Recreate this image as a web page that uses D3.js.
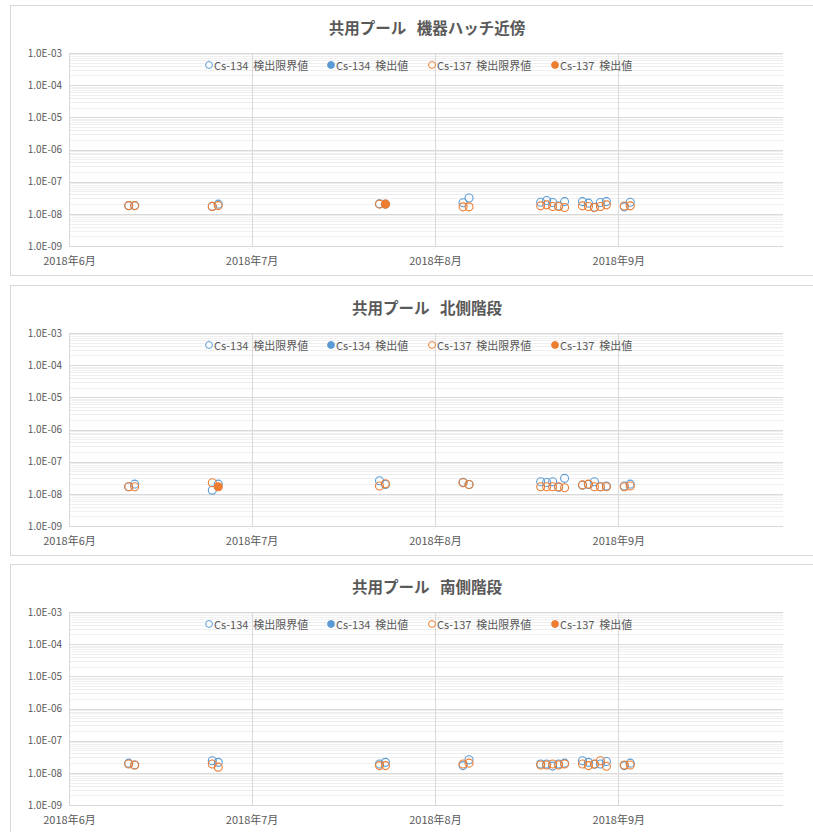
<!DOCTYPE html>
<html><head><meta charset="utf-8">
<script src="https://cdn.jsdelivr.net/npm/d3@7"></script>
<style>
body{margin:0;background:#fff}
text{font-family:"Noto Sans CJK JP","Noto Sans",sans-serif;fill:#595959;white-space:pre}
</style>
</head><body>
<svg id="chart" width="813" height="832"></svg>
<script>
// ---------- data ----------
const panelTitles = ["共用プール\u00A0\u00A0\u00A0機器ハッチ近傍", "共用プール\u00A0\u00A0\u00A0北側階段", "共用プール\u00A0\u00A0\u00A0南側階段"];
const seriesNames = ["Cs-134\u00A0\u00A0検出限界値", "Cs-134\u00A0\u00A0検出値", "Cs-137\u00A0\u00A0検出限界値", "Cs-137\u00A0\u00A0検出値"];
const yTickValues = [1e-3, 1e-4, 1e-5, 1e-6, 1e-7, 1e-8, 1e-9];
const yTickLabels = ["1.0E-03", "1.0E-04", "1.0E-05", "1.0E-06", "1.0E-07", "1.0E-08", "1.0E-09"];
const xTickDates = ["2018-06-01 00", "2018-07-01 14", "2018-08-01 07", "2018-09-01 00"];
const xTickLabels = ["2018年6月", "2018年7月", "2018年8月", "2018年9月"];
const xDomain = ["2018-06-01 00", "2018-09-28 14"];

const sampleDates = ["2018-06-11", "2018-06-12", "2018-06-25", "2018-06-26", "2018-07-23", "2018-07-24",
  "2018-08-06", "2018-08-07", "2018-08-19", "2018-08-20", "2018-08-21", "2018-08-22", "2018-08-23",
  "2018-08-26", "2018-08-27", "2018-08-28", "2018-08-29", "2018-08-30", "2018-09-02", "2018-09-03"];

// 機器ハッチ近傍
const hatchCs134Limit = [1.8e-8, 1.8e-8, 1.7e-8, 2.0e-8, 2.05e-8, 2.0e-8, 2.2e-8, 3.1e-8,
  2.3e-8, 2.6e-8, 2.24e-8, 1.75e-8, 2.4e-8, 2.4e-8, 2.15e-8, 1.6e-8, 2.24e-8, 2.4e-8, 1.65e-8, 2.3e-8];
const hatchCs134Detected = [null, null, null, null, null, null, null, null, null, null,
  null, null, null, null, null, null, null, null, null, null];
const hatchCs137Limit = [1.8e-8, 1.8e-8, 1.7e-8, 1.8e-8, 2.0e-8, null, 1.65e-8, 1.65e-8,
  1.77e-8, 1.9e-8, 1.69e-8, 1.69e-8, 1.57e-8, 1.77e-8, 1.69e-8, 1.57e-8, 1.69e-8, 1.9e-8, 1.75e-8, 1.77e-8];
const hatchCs137Detected = [null, null, null, null, null, 2.0e-8, null, null, null, null,
  null, null, null, null, null, null, null, null, null, null];

// 北側階段
const northCs134Limit = [1.66e-8, 2.0e-8, 1.3e-8, 2.0e-8, 2.55e-8, 1.95e-8, 2.3e-8, 1.95e-8,
  2.38e-8, 2.24e-8, 2.38e-8, 1.6e-8, 3.03e-8, 1.85e-8, 1.95e-8, 2.38e-8, 1.66e-8, 1.75e-8, 1.75e-8, 2.0e-8];
const northCs134Detected = [null, null, null, null, null, null, null, null, null, null,
  null, null, null, null, null, null, null, null, null, null];
const northCs137Limit = [1.66e-8, 1.66e-8, 2.2e-8, null, 1.75e-8, 2.05e-8, 2.2e-8, 1.95e-8,
  1.66e-8, 1.66e-8, 1.66e-8, 1.66e-8, 1.55e-8, 1.9e-8, 2.0e-8, 1.66e-8, 1.66e-8, 1.66e-8, 1.66e-8, 1.75e-8];
const northCs137Detected = [null, null, null, 1.66e-8, null, null, null, null, null, null,
  null, null, null, null, null, null, null, null, null, null];

// 南側階段
const southCs134Limit = [2.0e-8, 1.75e-8, 2.38e-8, 2.12e-8, 1.88e-8, 2.12e-8, 1.68e-8, 2.55e-8,
  1.88e-8, 1.88e-8, 1.62e-8, 1.88e-8, 2.0e-8, 2.38e-8, 2.12e-8, 1.85e-8, 1.88e-8, 2.24e-8, 1.68e-8, 2.0e-8];
const southCs134Detected = [null, null, null, null, null, null, null, null, null, null,
  null, null, null, null, null, null, null, null, null, null];
const southCs137Limit = [1.88e-8, 1.75e-8, 1.88e-8, 1.5e-8, 1.68e-8, 1.68e-8, 1.88e-8, 2.0e-8,
  1.75e-8, 1.75e-8, 1.88e-8, 1.75e-8, 1.88e-8, 1.88e-8, 1.68e-8, 1.88e-8, 2.38e-8, 1.6e-8, 1.75e-8, 1.75e-8];
const southCs137Detected = [null, null, null, null, null, null, null, null, null, null,
  null, null, null, null, null, null, null, null, null, null];

const seriesColors = ["#5B9BD5", "#5B9BD5", "#ED7D31", "#ED7D31"];
const seriesFilled = [false, true, false, true];

const panelSeries = [
  [hatchCs134Limit, hatchCs134Detected, hatchCs137Limit, hatchCs137Detected],
  [northCs134Limit, northCs134Detected, northCs137Limit, northCs137Detected],
  [southCs134Limit, southCs134Detected, southCs137Limit, southCs137Detected]
];

// ---------- drawing ----------
const svg = d3.select("#chart");
const parseH = d3.timeParse("%Y-%m-%d %H");
const parseD = d3.timeParse("%Y-%m-%d");
const panelOffsets = [0, 280, 559];
const plot = {left: 69, right: 783, top: 53, bottom: 246};
const legendX = [209, 331, 432, 555];
const fontStack = '"Noto Sans CJK JP","Noto Sans",sans-serif';

const x = d3.scaleTime().domain(xDomain.map(parseH)).range([plot.left, plot.right]);
const y = d3.scaleLog().domain([1e-9, 1e-3]).range([plot.bottom, plot.top]);

const minorValues = [];
for (let e = -9; e < -3; e++) for (let m = 2; m <= 9; m++) minorValues.push(m * Math.pow(10, e));

panelTitles.forEach((title, pi) => {
  const g = svg.append("g").attr("transform", `translate(0,${panelOffsets[pi]})`);
  g.append("rect").attr("x", 10.5).attr("y", 5.5).attr("width", 830).attr("height", 270)
    .attr("fill", "#fff").attr("stroke", "#d9d9d9");

  g.append("text").attr("x", 427).attr("y", 27).attr("text-anchor", "middle")
    .attr("dominant-baseline", "central").style("font-size", "15.5px").style("font-weight", "bold")
    .text(title);

  // minor gridlines
  g.append("g").selectAll("line").data(minorValues).join("line")
    .attr("x1", plot.left).attr("x2", plot.right)
    .attr("y1", d => Math.round(y(d)) + 0.5).attr("y2", d => Math.round(y(d)) + 0.5)
    .attr("stroke", "#efefef");
  // major gridlines
  g.append("g").selectAll("line").data(yTickValues).join("line")
    .attr("x1", plot.left).attr("x2", plot.right)
    .attr("y1", d => Math.round(y(d)) + 0.5).attr("y2", d => Math.round(y(d)) + 0.5)
    .attr("stroke", "#d9d9d9");
  // vertical gridlines
  const xt = xTickDates.map(parseH);
  g.append("g").selectAll("line").data(xt).join("line")
    .attr("x1", d => Math.round(x(d)) + 0.5).attr("x2", d => Math.round(x(d)) + 0.5)
    .attr("y1", plot.top).attr("y2", plot.bottom)
    .attr("stroke", "#d9d9d9");

  // y axis labels
  const yAxis = d3.axisLeft(y).tickValues(yTickValues).tickSize(0).tickPadding(7)
    .tickFormat((d, i) => yTickLabels[i]);
  const ya = g.append("g").attr("transform", `translate(${plot.left},0)`).call(yAxis);
  ya.select(".domain").remove();
  ya.selectAll("text").style("font-size", "10px").attr("fill", "#595959").style("font-family", fontStack);

  // x axis labels
  const xAxis = d3.axisBottom(x).tickValues(xt).tickSize(0).tickPadding(11)
    .tickFormat((d, i) => xTickLabels[i]);
  const xa = g.append("g").attr("transform", `translate(0,${plot.bottom})`).call(xAxis);
  xa.select(".domain").remove();
  xa.selectAll("text").style("font-size", "11px").attr("fill", "#595959").style("font-family", fontStack);

  // legend
  const lg = g.append("g");
  seriesNames.forEach((name, si) => {
    const lx = legendX[si];
    lg.append("circle").attr("cx", lx).attr("cy", 65).attr("r", 3.4)
      .attr("fill", seriesFilled[si] ? seriesColors[si] : "#fff")
      .attr("stroke", seriesColors[si]).attr("stroke-width", 1);
    lg.append("text").attr("x", lx + 5).attr("y", 65).attr("dominant-baseline", "central")
      .style("font-size", "11px").text(name);
  });

  // markers
  panelSeries[pi].forEach((vals, si) => {
    const pts = sampleDates.map((d, i) => ({d: parseD(d), v: vals[i]})).filter(p => p.v != null);
    g.append("g").selectAll("circle").data(pts).join("circle")
      .attr("cx", p => x(p.d)).attr("cy", p => y(p.v)).attr("r", 4)
      .attr("fill", seriesFilled[si] ? seriesColors[si] : "none")
      .attr("stroke", seriesColors[si]).attr("stroke-width", 1.1);
  });
});
</script>
</body></html>
